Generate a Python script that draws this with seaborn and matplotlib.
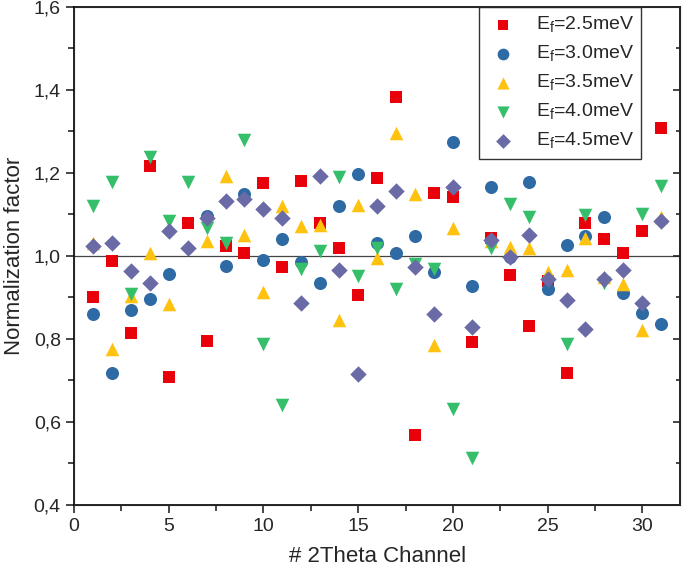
import numpy as np
import pandas as pd
import matplotlib
matplotlib.use('Agg')
import matplotlib.pyplot as plt
import seaborn as sns

# Dados (canal 2Theta 1..31)
canais = list(range(1, 32))
nan = np.nan
ef_25 = [0.90, 0.988, 0.815, 1.217, 0.708, 1.078, 0.795, 1.024, 1.006, 1.175,
         0.973, 1.18, 1.078, 1.02, 0.906, 1.188, 1.382, 0.567, 1.151, 1.141,
         0.793, 1.042, 0.953, 0.831, 0.94, 0.717, 1.079, 1.04, 1.006, 1.06, 1.307]
ef_30 = [0.86, 0.718, 0.87, 0.895, 0.956, nan, 1.095, 0.976, 1.15, 0.99,
         1.04, 0.984, 0.934, 1.12, 1.198, 1.032, 1.006, 1.047, 0.961, 1.274,
         0.928, 1.165, 0.998, 1.179, 0.92, 1.026, 1.047, 1.093, 0.911, 0.863, 0.835]
ef_35 = [1.03, 0.775, 0.903, 1.006, 0.885, nan, 1.036, 1.193, 1.05, 0.912,
         1.12, 1.071, 1.075, 0.845, 1.123, 0.995, 1.295, 1.149, 0.785, 1.068,
         nan, 1.036, 1.022, 1.018, 0.96, 0.965, 1.044, 0.948, 0.933, 0.822, 1.093]
ef_40 = [1.12, 1.177, 0.908, 1.239, 1.085, 1.177, 1.066, 1.032, 1.278, 0.787,
         0.64, 0.969, 1.012, 1.189, 0.952, 1.02, 0.92, 0.98, 0.969, 0.632,
         0.512, 1.02, 1.126, 1.093, nan, 0.788, 1.099, 0.935, nan, 1.10, 1.169]
ef_45 = [1.024, 1.032, 0.964, 0.934, 1.06, 1.018, 1.09, 1.133, 1.137, 1.113,
         1.09, 0.887, 1.192, 0.966, 0.714, 1.12, 1.157, 0.972, 0.86, 1.167,
         0.829, 1.039, 0.996, 1.05, 0.944, 0.893, 0.823, 0.945, 0.966, 0.886, 1.083]

rotulos = ['E$_\\mathregular{f}$=2.5meV', 'E$_\\mathregular{f}$=3.0meV', 'E$_\\mathregular{f}$=3.5meV',
           'E$_\\mathregular{f}$=4.0meV', 'E$_\\mathregular{f}$=4.5meV']
series = [ef_25, ef_30, ef_35, ef_40, ef_45]
cores = ['#E8000B', '#2E6AA3', '#FFC20E', '#36BF6B', '#6A6AA6']
marcadores = ['s', 'o', '^', 'v', 'D']
tamanhos = [75, 88, 95, 95, 70]

sns.set_style('ticks')
plt.rcParams['font.family'] = ['Liberation Sans', 'DejaVu Sans']
plt.rcParams['mathtext.fontset'] = 'custom'
plt.rcParams['mathtext.rm'] = 'Liberation Sans'

fig = plt.figure(figsize=(6.85, 5.71), dpi=100)
ax = fig.add_axes([0.108, 0.116, 0.885, 0.872])

ax.axhline(1.0, color='#444444', lw=0.9, zorder=1)
for s, r, c, m, t in zip(series, rotulos, cores, marcadores, tamanhos):
    d = pd.DataFrame({'canal': canais, 'fator': s})
    sns.scatterplot(data=d, x='canal', y='fator', color=c, marker=m, s=t,
                    linewidth=0, label=r, ax=ax, zorder=3)

ax.set_xlim(0, 32)
ax.set_ylim(0.4, 1.6)
ax.set_xticks(range(0, 31, 5))
ax.set_xticks(np.arange(2.5, 32, 5), minor=True)
ax.set_yticks(np.arange(0.4, 1.61, 0.2))
ax.set_yticks(np.arange(0.5, 1.6, 0.2), minor=True)
ax.set_yticklabels([f'{v:.1f}'.replace('.', ',') for v in np.arange(0.4, 1.61, 0.2)])

for sp in ax.spines.values():
    sp.set_linewidth(1.2)
    sp.set_color('black')
ax.tick_params(which='major', direction='out', length=6, width=1.2, labelsize=14)
ax.tick_params(which='minor', direction='out', length=4, width=1.2)

ax.set_xlabel('# 2Theta Channel', fontsize=16, labelpad=8)
ax.set_ylabel('Normalization factor', fontsize=16, labelpad=6)

# ticks internos no lado direito
ax2 = ax.twinx()
ax2.set_ylim(0.4, 1.6)
ax2.set_yticks(np.arange(0.4, 1.61, 0.2))
ax2.set_yticks(np.arange(0.5, 1.6, 0.2), minor=True)
ax2.tick_params(which='both', direction='in', labelright=False, width=1.2)
ax2.tick_params(which='major', length=5)
ax2.tick_params(which='minor', length=3)

leg = ax.legend(loc='upper right', bbox_to_anchor=(0.936, 1.0), borderaxespad=0,
                fontsize=14, frameon=True, fancybox=False, framealpha=1,
                edgecolor='#333333', handletextpad=0.9, labelspacing=0.45,
                borderpad=0.4, handlelength=1.6, markerscale=0.9)
leg.get_frame().set_linewidth(1.0)
leg.set_zorder(10)

fig.savefig('out.png', dpi=100)
